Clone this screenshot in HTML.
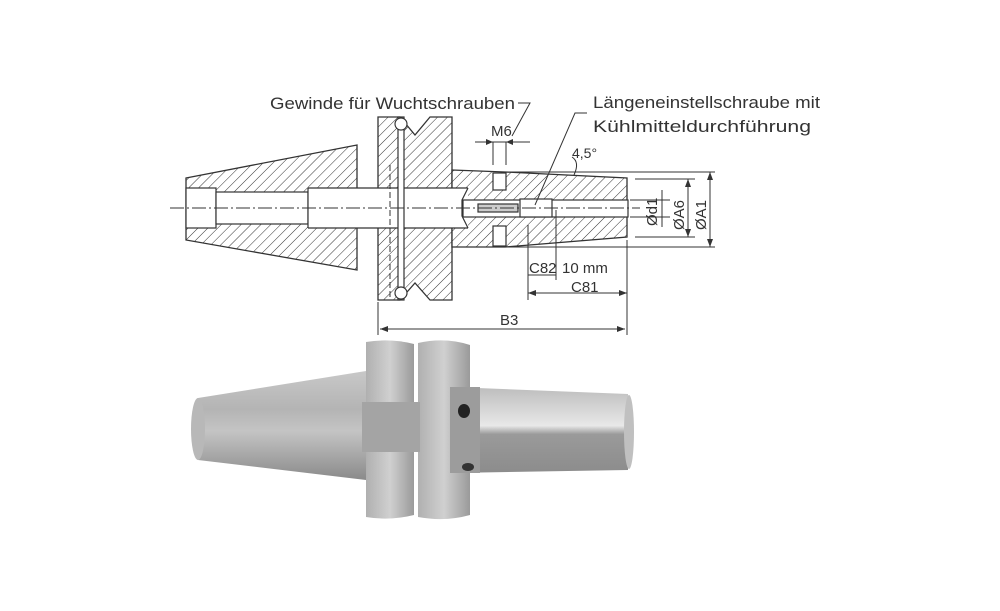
<!DOCTYPE html>
<html><head><meta charset="utf-8"><style>
html,body{margin:0;padding:0;background:#fff;}
svg{display:block;}
text{font-family:"Liberation Sans",sans-serif;fill:#333;}
</style></head><body>
<svg width="1000" height="611" viewBox="0 0 1000 611" xmlns="http://www.w3.org/2000/svg">
<defs>
<pattern id="h" patternUnits="userSpaceOnUse" width="7" height="7" patternTransform="rotate(45)">
<rect width="7" height="7" fill="#fff"/><line x1="0" y1="0" x2="0" y2="7" stroke="#333" stroke-width="1"/>
</pattern>
<linearGradient id="g" x1="0" y1="0" x2="0" y2="1">
<stop offset="0" stop-color="#c8c8c8"/><stop offset="0.35" stop-color="#b4b4b4"/><stop offset="0.55" stop-color="#c4c4c4"/><stop offset="1" stop-color="#8a8a8a"/>
</linearGradient>
<linearGradient id="g2" x1="0" y1="0" x2="0" y2="1">
<stop offset="0" stop-color="#bdbdbd"/><stop offset="0.45" stop-color="#e8e8e8"/><stop offset="0.55" stop-color="#9a9a9a"/><stop offset="1" stop-color="#8c8c8c"/>
</linearGradient>
<linearGradient id="gf" x1="0" y1="0" x2="1" y2="0">
<stop offset="0" stop-color="#b0b0b0"/><stop offset="0.5" stop-color="#d0d0d0"/><stop offset="1" stop-color="#9a9a9a"/>
</linearGradient>
</defs>
<g stroke="#333" stroke-width="1.3" fill="url(#h)">
<path d="M186,178 L357,145 L357,270 L186,240 Z"/>
<path d="M378,117 L400,117 L415,135 L430,117 L452,117 L452,300 L430,300 L415,283 L400,300 L378,300 Z"/>
<path d="M452,170 L505,172 L627,178 L627,237 L505,247 L452,247 Z"/>
</g>
<g fill="#fff" stroke="#333" stroke-width="1.2">
<rect x="186" y="188" width="30" height="40"/>
<rect x="216" y="192" width="92" height="32"/>
<rect x="308" y="188" width="160" height="40" stroke="none"/>
<line x1="308" y1="188" x2="468" y2="188"/><line x1="308" y1="228" x2="468" y2="228"/>
<line x1="308" y1="188" x2="308" y2="228"/>
<path d="M468,188 L462,200 L462,216 L468,228"/>
<rect x="463" y="200" width="165" height="17"/>
<rect x="493" y="173" width="13" height="17"/>
<rect x="493" y="226" width="13" height="20"/>
<rect x="398" y="117" width="6" height="183" stroke="#333"/>
<circle cx="401" cy="124" r="6"/><circle cx="401" cy="293" r="6"/>
<rect x="520" y="199" width="32" height="18"/>
<rect x="478" y="204" width="40" height="8" fill="#ccc"/>
</g>
<g stroke="#333" stroke-width="1" fill="none">
<line x1="170" y1="208" x2="640" y2="208" stroke-dasharray="14,3,2,3"/>
<line x1="390" y1="165" x2="390" y2="300" stroke-dasharray="6,3"/>
<line x1="378" y1="302" x2="378" y2="335"/><line x1="627" y1="240" x2="627" y2="335"/>
<line x1="380" y1="329" x2="625" y2="329"/>
<line x1="528" y1="225" x2="528" y2="300"/><line x1="556" y1="210" x2="556" y2="280"/>
<line x1="528" y1="275" x2="556" y2="275"/><line x1="528" y1="293" x2="627" y2="293"/>
<line x1="505" y1="172" x2="715" y2="172"/><line x1="627" y1="247" x2="715" y2="247"/>
<line x1="505" y1="247" x2="627" y2="247"/>
<line x1="635" y1="179" x2="695" y2="179"/><line x1="635" y1="237" x2="695" y2="237"/>
<line x1="630" y1="200" x2="670" y2="200"/><line x1="630" y1="217" x2="670" y2="217"/>
<line x1="710" y1="172" x2="710" y2="247"/><line x1="688" y1="179" x2="688" y2="237"/><line x1="662" y1="190" x2="662" y2="227"/>
<line x1="475" y1="142" x2="530" y2="142"/><line x1="493" y1="142" x2="493" y2="165"/><line x1="506" y1="142" x2="506" y2="165"/>
<path d="M518,103 L530,103 L512,136"/>
<path d="M587,113 L575,113 L535,205"/>
<path d="M572,157 Q580,162 574,175"/>
</g>
<g fill="#333">
<path d="M380,329 l8,-3 v6 z"/><path d="M625,329 l-8,-3 v6 z"/>
<path d="M528,293 l8,-3 v6 z"/><path d="M627,293 l-8,-3 v6 z"/>
<path d="M710,172 l-3,8 h6 z"/><path d="M710,247 l-3,-8 h6 z"/>
<path d="M688,179 l-3,8 h6 z"/><path d="M688,237 l-3,-8 h6 z"/>
<path d="M493,142 l-7,-3 v6 z"/><path d="M506,142 l7,-3 v6 z"/>
</g>
<g font-size="17">
<text x="270" y="109" textLength="245" lengthAdjust="spacingAndGlyphs">Gewinde für Wuchtschrauben</text>
<text x="593" y="108" textLength="227" lengthAdjust="spacingAndGlyphs">Längeneinstellschraube mit</text>
<text x="593" y="132" textLength="218" lengthAdjust="spacingAndGlyphs">Kühlmitteldurchführung</text>
<text x="491" y="136" font-size="15">M6</text>
<text x="572" y="158" font-size="14">4,5°</text>
<text x="529" y="273" font-size="15">C82</text>
<text x="562" y="273" font-size="15">10 mm</text>
<text x="571" y="292" font-size="15">C81</text>
<text x="500" y="325" font-size="15">B3</text>
<text transform="translate(657,226) rotate(-90)" font-size="15">Ød1</text>
<text transform="translate(684,230) rotate(-90)" font-size="15">ØA6</text>
<text transform="translate(706,230) rotate(-90)" font-size="15">ØA1</text>
</g>
<path d="M198,398 L366,371 L366,480 L198,460 Q190,430 198,398 Z" fill="url(#g)"/>
<ellipse cx="198" cy="429" rx="7" ry="31" fill="#b8b8b8"/>
<path d="M366,342 Q390,338 414,344 L414,515 Q390,521 366,517 Z" fill="url(#gf)"/>
<path d="M418,343 Q445,337 470,345 L470,515 Q445,522 418,517 Z" fill="url(#gf)"/>
<rect x="362" y="402" width="58" height="50" fill="#a4a4a4"/>
<path d="M452,387 L628,394 L628,470 L452,473 Z" fill="url(#g2)"/>
<rect x="450" y="387" width="30" height="86" fill="#9c9c9c"/>
<ellipse cx="464" cy="411" rx="6" ry="7" fill="#222"/>
<ellipse cx="468" cy="467" rx="6" ry="4" fill="#333"/>
<ellipse cx="629" cy="432" rx="5" ry="37" fill="#c0c0c0"/>
</svg>
</body></html>
